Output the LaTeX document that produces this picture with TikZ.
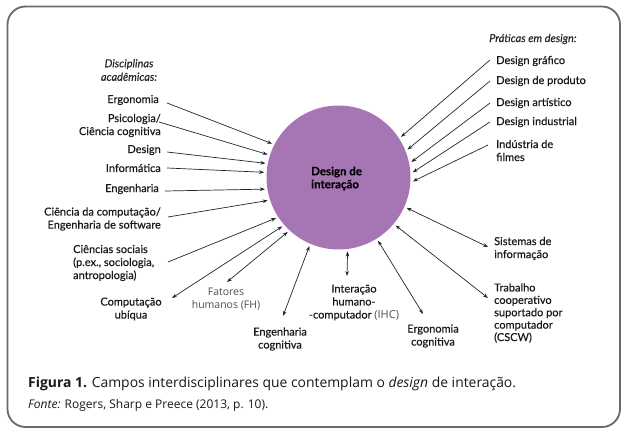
\documentclass[tikz,border=0pt]{standalone}
\usepackage{fontspec}
\setmainfont{Lato}[FakeBold=0.35]
\newfontfamily\capfont{Open Sans}
\usetikzlibrary{arrows.meta}
\definecolor{circ}{RGB}{166,117,180}
\definecolor{framec}{RGB}{105,105,105}
\definecolor{fhgray}{RGB}{80,80,80}
\begin{document}
\begin{tikzpicture}[x=1pt,y=-1pt,
 lab/.style={inner sep=0pt, font=\fontsize{11}{13}\selectfont, text=black!90},
 head/.style={inner sep=0pt, font=\fontsize{11}{13.5}\selectfont\itshape, text=black!85},
 one/.style={-{Stealth[length=5pt,width=3.6pt]}, line width=0.7pt, draw=black!85},
 two/.style={{Stealth[length=5pt,width=3.6pt]}-{Stealth[length=5pt,width=3.6pt]}, line width=0.7pt, draw=black!85}]
\useasboundingbox (0,0) rectangle (628,435);
\fill[white] (0,0) rectangle (628,435);
\draw[framec, line width=1.8pt, rounded corners=18pt] (7.5,6.5) rectangle (620,427);
\node[circle, fill=circ, minimum size=144pt, inner sep=0pt, outer sep=2.5pt] (c) at (338.5,177.5) {};
\node[inner sep=0pt, anchor=west, align=left, font=\fontsize{11.5}{13}\selectfont\bfseries] (ct) at (311,178.5) {Design de\\interação};

% left headings and labels
\node[head, align=center] (disc) at (129,70) {Disciplinas\\acadêmicas:};
\node[lab, anchor=east] (ergo) at (159,100) {Ergonomia};
\node[lab, anchor=east, align=right] (psi) at (161,125.5) {Psicologia/\\Ciência cognitiva};
\node[lab, anchor=east] (des) at (161,150) {Design};
\node[lab, anchor=east] (inf) at (161,168) {Informática};
\node[lab, anchor=east] (eng) at (159,189) {Engenharia};
\node[lab, anchor=east, align=right] (ccc) at (161,219) {Ciência da computação/\\Engenharia de software};
\node[lab, anchor=west, align=left] (cs) at (73,263) {Ciências sociais\\(p.ex., sociologia,\\antropologia)};
\node[lab, align=center] (cu) at (131,309) {Computação\\ubíqua};
\node[lab, align=center, text=fhgray, font=\capfont\fontsize{10.5}{13.5}\selectfont] (fh) at (226,299) {Fatores\\humanos (FH)};
\node[lab, align=center] (ec) at (280,339) {Engenharia\\cognitiva};
\node[lab, align=center] (ihc) at (354,302.5) {Interação\\humano-\\-computador {\color{fhgray}\capfont(IHC)}};
\node[lab, align=center] (ergc) at (433,336) {Ergonomia\\cognitiva};
\node[lab, anchor=west, align=left] (si) at (494,248.5) {Sistemas de\\informação};
\node[lab, anchor=west, align=left, font=\fontsize{11}{12.4}\selectfont] (tc) at (494,313) {Trabalho\\cooperativo\\suportado por\\computador\\(CSCW)};

% right headings and labels
\node[head, anchor=west] (prat) at (489,39) {Práticas em design:};
\node[lab, anchor=west] (gra) at (496,61) {Design gráfico};
\node[lab, anchor=west] (pro) at (496,81) {Design de produto};
\node[lab, anchor=west] (art) at (496,103) {Design artístico};
\node[lab, anchor=west] (ind) at (496,122) {Design industrial};
\node[lab, anchor=west, align=left] (fil) at (496,150.5) {Indústria de\\filmes};

% connector free ends
\coordinate (ergoS) at (167,103);
\coordinate (psiS) at (159,122);
\coordinate (desS) at (167,152);
\coordinate (infS) at (167,168);
\coordinate (engS) at (165,191);
\coordinate (cccS) at (168,217);
\coordinate (csS) at (168,262);
\coordinate (cuS) at (172,298);
\coordinate (fhS) at (227,282);
\coordinate (ecS) at (283,316);
\coordinate (ihcS) at (347,276);
\coordinate (ergcS) at (423,314);
\coordinate (tcS) at (488,298);
\coordinate (siS) at (488,247);
\coordinate (filS) at (488,145);
\coordinate (indS) at (490,122);
\coordinate (artS) at (490,103);
\coordinate (proS) at (490,81);
\coordinate (graS) at (490,60);

% connectors
\draw[one] (ergoS) -- (c.153);
\draw[one] (psiS) -- (c.162);
\draw[one] (desS) -- (c.169);
\draw[one] (infS) -- (c.176);
\draw[one] (engS) -- (c.189.5);
\draw[one] (cccS) -- (c.198);
\draw[one] (csS) -- (c.213);
\draw[two] (cuS) -- (c.221);
\draw[two] (fhS) -- (c.227);
\draw[two] (ecS) -- (c.247.5);
\draw[two] (ihcS) -- (c.277);
\draw[two] (ergcS) -- (c.302);
\draw[two] (tcS) -- (c.320.5);
\draw[two] (siS) -- (c.336.5);
\draw[one] (filS) -- (c.357);
\draw[one] (indS) -- (c.4);
\draw[one] (artS) -- (c.12.5);
\draw[one] (proS) -- (c.22);
\draw[one] (graS) -- (c.33.5);

% caption
\node[inner sep=0pt, anchor=base west, font=\capfont\fontsize{13.9}{16}\selectfont, text=black!90] (cap) at (28,387) {\textbf{Figura 1.} Campos interdisciplinares que contemplam o \textit{design} de interação.};
\node[inner sep=0pt, anchor=base west, font=\capfont\fontsize{12}{13}\selectfont, text=black!90] (src) at (28,408) {\textit{Fonte:} Rogers, Sharp e Preece (2013, p. 10).};
\end{tikzpicture}
\end{document}
